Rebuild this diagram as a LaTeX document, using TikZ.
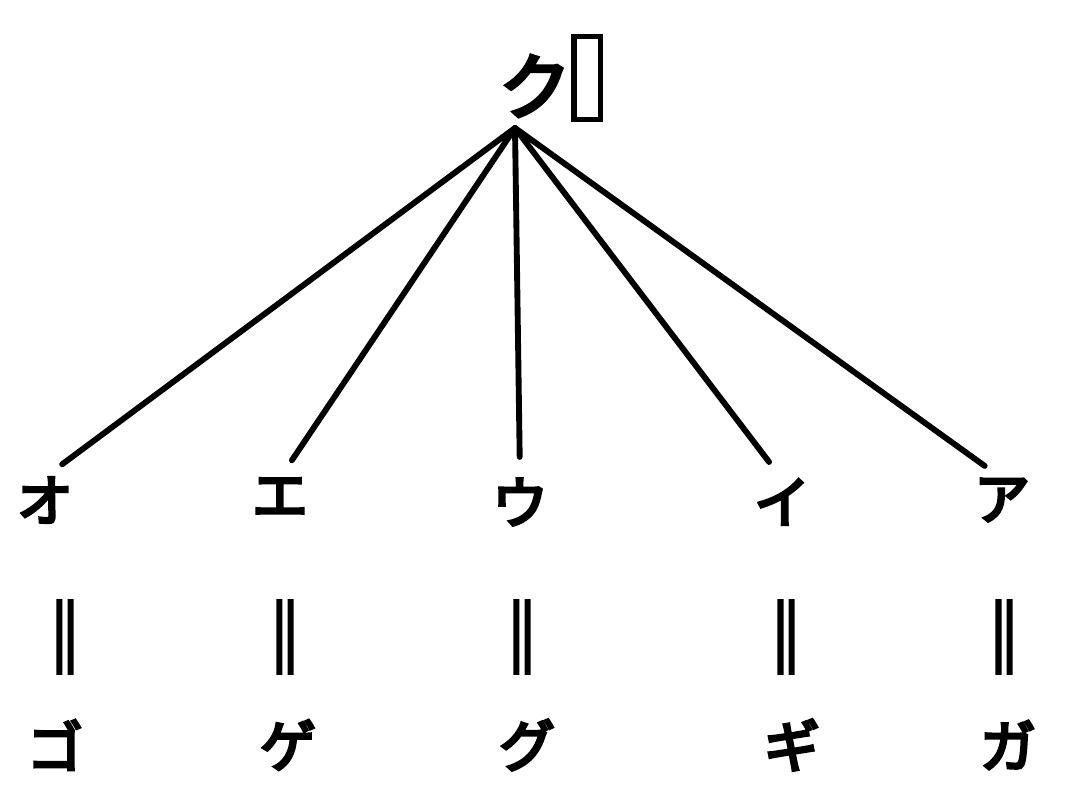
\documentclass[tikz,border=0pt]{standalone}
\usepackage{fontspec}
\newfontfamily\jpfont{Noto Sans CJK JP}[FakeBold=5]
\usetikzlibrary{positioning}

\begin{document}
\begin{tikzpicture}[
  x=0.75pt, y=-0.75pt,
  kana/.style={font=\jpfont\fontsize{42}{44}\selectfont, inner sep=0pt},
  eqsign/.style={font=\jpfont\fontsize{54}{56}\selectfont, inner sep=0pt},
  branch/.style={line width=4.4pt, line cap=round, shorten >=16pt}
]
\useasboundingbox (0,0) rectangle (1065,802);
% root
\node[kana, font=\jpfont\fontsize{54}{56}\selectfont] (root) at (535,86) {ク};
\node[draw, line width=4pt, minimum width=20pt, minimum height=62pt,
      inner sep=0pt, right=0pt of root, yshift=6pt] (slot) {};
\coordinate (apex) at (515,128);

% vowels
\node[kana] (o) at (45,500) {オ};
\node[kana] (e) at (280,497) {エ};
\node[kana] (u) at (520,502) {ウ};
\node[kana] (i) at (782,502) {イ};
\node[kana] (a) at (1002,500) {ア};

% equal signs
\foreach \n/\x in {o/65, e/285, u/522, i/786, a/1004} {
  \node[eqsign] (eq\n) at (\x,637) {‖};
}

% voiced syllables
\node[kana] (go) at (55,745) {ゴ};
\node[kana] (ge) at (288,745) {ゲ};
\node[kana] (gu) at (527,745) {グ};
\node[kana] (gi) at (792,745) {ギ};
\node[kana] (ga) at (1008,745) {ガ};

% edges
\foreach \n in {o,e,u,i,a}
  \draw[branch] (apex) -- (\n.north);
\end{tikzpicture}
\end{document}
